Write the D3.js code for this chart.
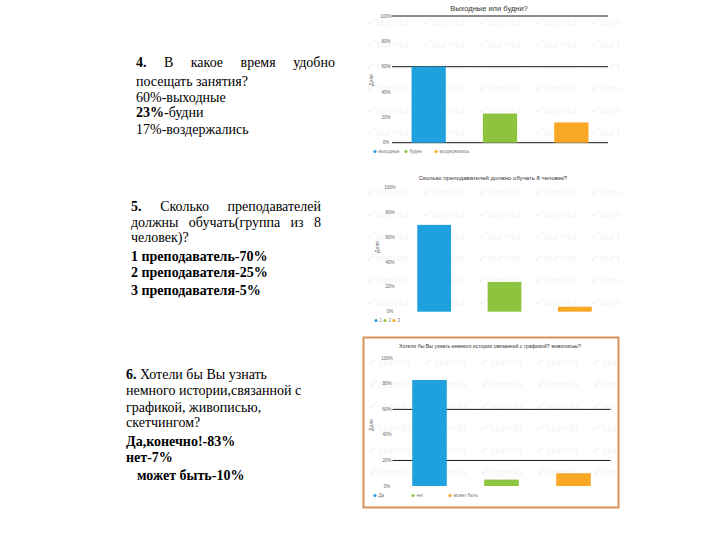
<!DOCTYPE html>
<html><head><meta charset="utf-8">
<script src="https://cdn.jsdelivr.net/npm/d3@7"></script>
<style>html,body{margin:0;padding:0;background:#fff}svg{display:block}</style>
</head><body>
<svg id="c" width="720" height="540"></svg>
<script>
// ---- data ----
const chart1Title = "Выходные или будни?";
const chart1Cats = ["выходные", "будни", "воздержались"];
const chart1Vals = [60, 23, 16];
const chart2Title = "Сколько преподавателей должно обучать 8 человек?";
const chart2Cats = ["1", "2", "3"];
const chart2Vals = [70, 24, 4];
const chart3Title = "Хотели бы Вы узнать немного истории связанной с графикой? живописью?";
const chart3Cats = ["Да", "нет", "может быть"];
const chart3Vals = [83, 5, 10];
const yTicks = [0, 20, 40, 60, 80, 100];
const yAxisLabel = "Доля";
const colors = ["#1ea1dc", "#8cc43f", "#f9a825"];

const svg = d3.select("#c");

// ---- survey charts ----
function drawChart(cfg) {
  const g = svg.append("g");
  const clipId = "clip" + cfg.id;
  svg.append("clipPath").attr("id", clipId).append("rect")
    .attr("x", cfg.area[0]).attr("y", cfg.area[1]).attr("width", cfg.area[2]).attr("height", cfg.area[3]);
  // watermark
  const wm = g.append("g").attr("clip-path", `url(#${clipId})`);
  for (let r = 0; r < 8; r++) {
    for (let c = 0; c < 6; c++) {
      wm.append("text")
        .attr("x", cfg.area[0] + 2 + c * 56)
        .attr("y", cfg.area[1] + 14 + r * 22)
        .attr("font-family", "Liberation Serif").attr("font-style", "italic")
        .attr("font-size", 13).attr("fill", "#f4f4f4")
        .text("✓survio");
    }
  }
  const x = d3.scaleBand().domain(cfg.cats).range(cfg.xr).paddingInner(0.52).paddingOuter(0.26);
  const y = d3.scaleLinear().domain([0, 100]).range(cfg.yr);
  // dark grid lines
  g.selectAll(".grid").data(cfg.dark).join("line")
    .attr("x1", cfg.xr[0] - 1).attr("x2", cfg.xr[1] + 1)
    .attr("y1", d => y(d)).attr("y2", d => y(d))
    .attr("stroke", "#1a1a1a").attr("stroke-width", 1);
  // tick labels
  g.selectAll(".tk").data(yTicks).join("text")
    .attr("x", cfg.tickX).attr("y", d => y(d) + 1.5)
    .attr("text-anchor", "middle")
    .attr("font-family", "Liberation Sans").attr("font-size", 4.5).attr("fill", "#666")
    .text(d => d + "%");
  // y label
  g.append("text")
    .attr("transform", `translate(${cfg.labX},${cfg.labY}) rotate(-90)`)
    .attr("text-anchor", "middle")
    .attr("font-family", "Liberation Sans").attr("font-size", 5).attr("fill", "#555")
    .text(yAxisLabel);
  // bars
  g.selectAll(".bar").data(cfg.vals).join("rect")
    .attr("x", (d, i) => x(cfg.cats[i]))
    .attr("width", x.bandwidth())
    .attr("y", d => y(d))
    .attr("height", d => y(0) - y(d))
    .attr("fill", (d, i) => colors[i]);
  // title
  g.append("text")
    .attr("x", cfg.titleX).attr("y", cfg.titleY)
    .attr("text-anchor", "middle")
    .attr("font-family", "Liberation Sans").attr("font-size", cfg.titleSize).attr("fill", "#333")
    .text(cfg.title);
  // legend
  cfg.cats.forEach((c, i) => {
    const lx = cfg.legX[i];
    g.append("circle").attr("cx", lx).attr("cy", cfg.legY - 1.5).attr("r", 1.6).attr("fill", colors[i]);
    g.append("text").attr("x", lx + 3.5).attr("y", cfg.legY)
      .attr("font-family", "Liberation Sans").attr("font-size", 4.5).attr("fill", "#777").text(c);
  });
}

drawChart({ id: 1, title: chart1Title, cats: chart1Cats, vals: chart1Vals,
  area: [363, 12, 257, 134], xr: [393, 607], yr: [142.7, 16], dark: [100, 60, 0],
  tickX: 386, labX: 373, labY: 80, titleX: 489, titleY: 10.5, titleSize: 7.5,
  legX: [375, 406, 436], legY: 153 });
drawChart({ id: 2, title: chart2Title, cats: chart2Cats, vals: chart2Vals,
  area: [363, 182, 257, 133], xr: [399, 610], yr: [311.7, 187.7], dark: [],
  tickX: 390, labX: 379, labY: 247, titleX: 493, titleY: 179.5, titleSize: 6,
  legX: [376, 385, 394], legY: 322 });
drawChart({ id: 3, title: chart3Title, cats: chart3Cats, vals: chart3Vals,
  area: [365, 352, 252, 130], xr: [393.5, 609.5], yr: [486, 358.3], dark: [60, 20],
  tickX: 387, labX: 373, labY: 425, titleX: 490, titleY: 347.5, titleSize: 5.2,
  legX: [375, 413, 450], legY: 497 });

// frame around chart 3
svg.append("rect").attr("x", 363.5).attr("y", 337.5).attr("width", 255).attr("height", 170)
  .attr("fill", "none").attr("stroke", "#d8935c").attr("stroke-width", 2);

// ---- text blocks ----
function line(x, y, parts, opts = {}) {
  const t = svg.append("text").attr("x", x).attr("y", y)
    .attr("font-family", "Liberation Serif").attr("font-size", 14).attr("fill", "#000");
  parts.forEach(p => {
    t.append("tspan").attr("font-weight", p[1] ? "bold" : "normal").text(p[0]);
  });
  if (opts.len) {
    const natural = t.node().getComputedTextLength();
    const spaces = parts.map(p => p[0]).join("").split(" ").length - 1;
    t.attr("word-spacing", (opts.len - natural) / spaces);
  }
}
// block 4
line(136, 67, [["4.", 1], [" В какое время удобно", 0]], { len: 199 });
line(136, 86, [["посещать занятия?", 0]]);
line(136, 102, [["60%-выходные", 0]]);
line(136, 117, [["23%", 1], ["-будни", 0]]);
line(136, 133.5, [["17%-воздержались", 0]]);
// block 5
line(131, 211, [["5.", 1], [" Сколько преподавателей", 0]], { len: 190 });
line(131, 226.5, [["должны обучать(группа из 8", 0]], { len: 190 });
line(131, 242, [["человек)?", 0]]);
line(131, 260.5, [["1 преподаватель-70%", 1]]);
line(131, 277, [["2 преподавателя-25%", 1]]);
line(131, 295, [["3 преподавателя-5%", 1]]);
// block 6
line(126, 378.5, [["6.", 1], [" Хотели бы Вы узнать", 0]]);
line(126, 395, [["немного истории,связанной с", 0]]);
line(126, 411.5, [["графикой, живописью,", 0]]);
line(126, 427, [["скетчингом?", 0]]);
line(126, 445.5, [["Да,конечно!-83%", 1]]);
line(126, 462, [["нет-7%", 1]]);
line(137, 479.5, [["может быть-10%", 1]]);
</script>
</body></html>
